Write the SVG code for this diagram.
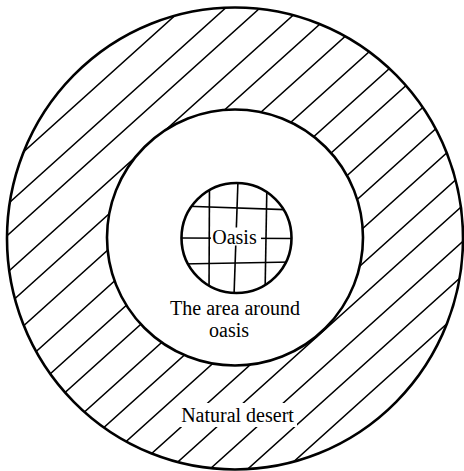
<svg xmlns="http://www.w3.org/2000/svg" width="464" height="471" viewBox="0 0 464 471">
<style>
.ring{fill:none;stroke:#000;stroke-width:2.6}
.hatch line{stroke:#000;stroke-width:1.5;stroke-linecap:round}
.grid line{stroke:#000;stroke-width:1.6}
.lbl{font-family:"Liberation Serif","Times New Roman",serif;font-size:20px;fill:#000;text-anchor:middle}
</style>
<defs>
<clipPath id="outerClip"><ellipse cx="235" cy="238.5" rx="228" ry="231"/></clipPath>
<clipPath id="innerClip"><circle cx="236.5" cy="238" r="55"/></clipPath>
</defs>
<rect width="464" height="471" fill="#fff"/>
<g id="natural-desert">
<ellipse cx="235" cy="238.5" rx="228" ry="231" fill="#fff"/>
<g class="hatch" clip-path="url(#outerClip)">
<line x1="-10" y1="182" x2="480" y2="-259"/>
<line x1="-10" y1="220" x2="480" y2="-221"/>
<line x1="-10" y1="251" x2="480" y2="-190"/>
<line x1="-10" y1="288" x2="480" y2="-153"/>
<line x1="-10" y1="321" x2="480" y2="-120"/>
<line x1="-10" y1="356" x2="480" y2="-85"/>
<line x1="-10" y1="393" x2="480" y2="-48"/>
<line x1="-10" y1="428" x2="480" y2="-13"/>
<line x1="-10" y1="460" x2="480" y2="19"/>
<line x1="-10" y1="497" x2="480" y2="56"/>
<line x1="-10" y1="530" x2="480" y2="89"/>
<line x1="-10" y1="564" x2="480" y2="123"/>
<line x1="-10" y1="599" x2="480" y2="158"/>
<line x1="-10" y1="631" x2="480" y2="190"/>
<line x1="-10" y1="667" x2="480" y2="226"/>
<line x1="-10" y1="701" x2="480" y2="260"/>
<line x1="-10" y1="735" x2="480" y2="294"/>
</g>
<rect x="178" y="403" width="119" height="24" fill="#fff"/>
<text class="lbl" x="237.5" y="421.5">Natural desert</text>
<ellipse class="ring" cx="235" cy="238.5" rx="228" ry="231"/>
</g>
<g id="area-around-oasis">
<circle cx="235" cy="237.5" r="128" fill="#fff" stroke="#000" stroke-width="2.6"/>
<text class="lbl" x="235" y="314.5">The area around</text>
<text class="lbl" x="229" y="337">oasis</text>
</g>
<g id="oasis">
<circle cx="236.5" cy="238" r="55" fill="#fff"/>
<g class="grid" clip-path="url(#innerClip)">
<line x1="209.5" y1="180" x2="209" y2="296"/>
<line x1="238" y1="180" x2="234" y2="296"/>
<line x1="267" y1="180" x2="265" y2="296"/>
<line x1="180" y1="206" x2="296" y2="210"/>
<line x1="180" y1="238" x2="296" y2="238.5"/>
<line x1="180" y1="264" x2="296" y2="262"/>
</g>
<rect x="211" y="227.5" width="50" height="18" fill="#fff"/>
<text class="lbl" x="234.5" y="244">Oasis</text>
<circle class="ring" cx="236.5" cy="238" r="55"/>
</g>
<g id="connectors"/>
</svg>
